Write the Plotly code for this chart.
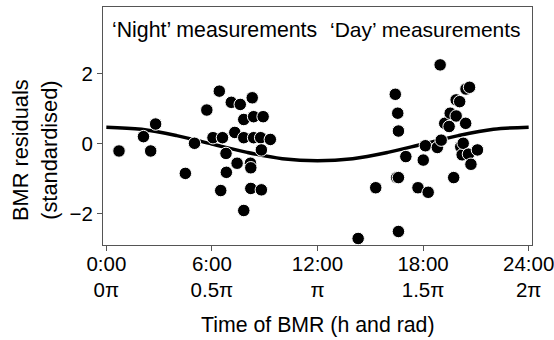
import plotly.graph_objects as go

night_hours = [0.72, 2.11, 2.52, 2.80, 4.49, 5.01, 5.71, 6.06, 6.42, 6.50, 6.60, 6.80, 6.82,
               7.10, 7.30, 7.43, 7.61, 7.81, 7.81, 7.81, 8.19, 8.21, 8.21, 8.29, 8.37, 8.37,
               8.77, 8.81, 8.81, 8.91, 9.32]
night_resid = [-0.20, 0.21, -0.20, 0.57, -0.84, 0.02, 0.97, 0.18, 1.51, -1.33, 0.18, -0.27, -0.81,
               1.19, 0.33, -0.55, 1.13, -1.90, 0.70, 0.18, -0.55, -0.68, -1.27, 1.32, 0.78, 0.18,
               0.18, -0.17, -1.31, 0.78, 0.13]
day_hours = [14.31, 15.31, 16.42, 16.50, 16.56, 16.60, 16.60, 16.60, 17.02, 17.71, 18.01, 18.13,
             18.29, 18.81, 18.97, 19.03, 19.23, 19.48, 19.54, 19.74, 19.88, 19.88, 20.08, 20.14,
             20.22, 20.28, 20.42, 20.44, 20.64, 20.58, 20.72, 21.09]
day_resid = [-2.70, -1.25, 1.42, -0.96, 0.88, 0.37, -0.96, -2.50, -0.36, -1.25, -0.46, -0.05,
             -1.38, -0.10, 2.26, 0.11, 0.59, 0.50, 0.88, -0.96, 0.80, 1.26, 1.21, -0.08,
             -0.31, 0.02, 0.59, 1.57, 1.62, -0.29, -0.58, -0.17]

# Fitted cosinor curve
curve_hours = [0, 2, 4, 6, 8, 10, 12, 14, 16, 18, 20, 22, 24]
curve_values = [0.48, 0.42, 0.24, 0.0, -0.24, -0.42, -0.48, -0.42, -0.24, 0.0, 0.24, 0.42, 0.48]

x_tick_vals = [0, 6, 12, 18, 24]
x_tick_text = ["0:00<br>0π", "6:00<br>0.5π", "12:00<br>π", "18:00<br>1.5π", "24:00<br>2π"]
y_tick_vals = [-2, 0, 2]
y_tick_text = ["−2", "0", "2"]

FONT = "Liberation Sans, Arial, Helvetica, sans-serif"

fig = go.Figure()
fig.add_trace(go.Scatter(x=curve_hours, y=curve_values, mode="lines",
                         line=dict(color="black", width=3.5, shape="spline"),
                         hoverinfo="skip", showlegend=False))
fig.add_trace(go.Scatter(x=night_hours + day_hours, y=night_resid + day_resid, mode="markers",
                         marker=dict(color="black", size=12.5,
                                     line=dict(color="white", width=1)),
                         showlegend=False))

fig.update_layout(
    width=554, height=340,
    margin=dict(l=103, r=22, t=7, b=95),
    paper_bgcolor="white", plot_bgcolor="white",
    font=dict(family=FONT, size=20.5, color="black"),
    xaxis=dict(range=[-0.19, 24.19], tickvals=x_tick_vals, ticktext=x_tick_text,
               showgrid=False, zeroline=False, showline=True, mirror=True,
               linecolor="#555555", linewidth=1, ticks="outside", ticklen=5,
               tickcolor="#555555", tickfont=dict(size=20.5), automargin=False,
               ticklabeloverflow="allow", ticklabelstandoff=-5),
    yaxis=dict(range=[-2.886, 3.914], tickvals=y_tick_vals, ticktext=y_tick_text,
               showgrid=False, zeroline=False, showline=True, mirror=True,
               linecolor="#555555", linewidth=1, ticks="outside", ticklen=5,
               tickcolor="#555555", tickfont=dict(size=20.5), automargin=False,
               ticklabeloverflow="allow"),
    annotations=[
        dict(text="‘Night’ measurements", x=0.19, y=3.27, xref="x", yref="y",
             xanchor="left", yanchor="middle", showarrow=False, font=dict(size=21.3)),
        dict(text="‘Day’ measurements", x=23.66, y=3.27, xref="x", yref="y",
             xanchor="right", yanchor="middle", showarrow=False, font=dict(size=21)),
        dict(text="Time of BMR (h and rad)", x=0.5, y=-0.335, xref="paper", yref="paper",
             xanchor="center", yanchor="middle", showarrow=False, font=dict(size=21.3)),
        dict(text="BMR residuals<br>(standardised)", x=-0.158, y=0.40, xref="paper",
             yref="paper", xanchor="center", yanchor="middle", textangle=-90,
             showarrow=False, font=dict(size=21.8)),
    ],
)

fig.write_html("out.html", config={"displayModeBar": False},
               post_script="document.body.style.margin='0';")
